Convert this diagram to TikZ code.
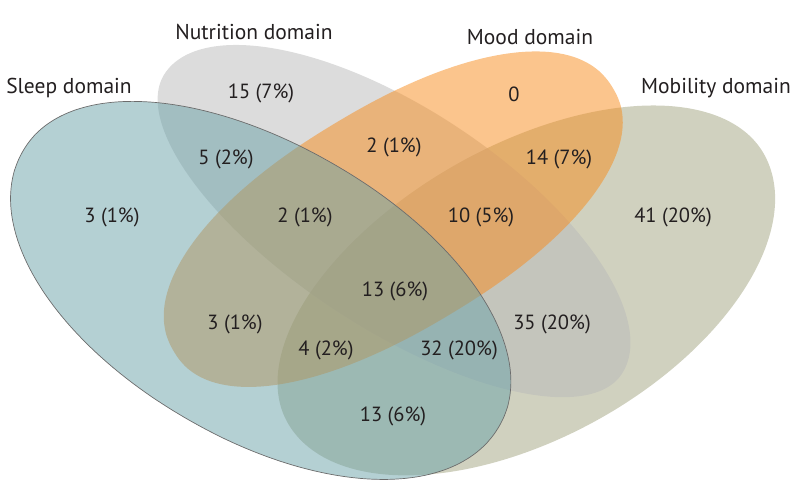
\documentclass[tikz,border=0pt]{standalone}
\usepackage{fontspec}
\setmainfont{PT Sans}
\definecolor{sleepc}{HTML}{6AA1A8}
\definecolor{nutric}{HTML}{B9B9B9}
\definecolor{moodc}{HTML}{F78B1B}
\definecolor{mobc}{HTML}{A2A480}
\definecolor{txt}{HTML}{231F20}
% #1 cx, #2 cy, #3 rotation, #4 a (+u end), #5 a (-u end), #6 b (+v side), #7 b (-v side), #8 exponent, #9 style
\newcommand{\vennshape}[9]{%
  \path[#9, shift={(#1,#2)}, rotate=#3]
    plot[domain=0.5:360.5, samples=361, variable=\t]
    ({((cos(\t)>0) ? #4 : #5)*cos(\t)/abs(cos(\t))*pow(abs(cos(\t)),2/#8)},
     {((sin(\t)>0) ? #6 : #7)*sin(\t)/abs(sin(\t))*pow(abs(sin(\t)),2/#8)}) -- cycle;}
\begin{document}
\begin{tikzpicture}[x=1pt,y=-1pt,
  setfill/.style={fill=#1, fill opacity=0.5},
  lab/.style={text=txt, font=\fontsize{20.5}{22}\selectfont, inner sep=0pt},
  title/.style={text=txt, font=\fontsize{21.5}{23}\selectfont, inner sep=0pt}]
\useasboundingbox (0,0) rectangle (794,500);
% Mobility
\vennshape{527}{287.5}{29.4}{272}{275}{150}{142}{2}{setfill=mobc}
% Nutrition
\vennshape{392}{223}{-33.3}{275}{272}{104}{116}{2}{setfill=nutric}
% Mood
\vennshape{393.5}{220}{31}{256}{256}{110}{113}{2.2}{setfill=moodc}
% Sleep
\vennshape{262}{289}{-30}{274}{276}{150}{144}{2.05}{setfill=sleepc, draw=gray!85!black, line width=0.7pt}

\node[title] (tsleep) at (69,88) {Sleep domain};
\node[title] (tnutri) at (254,32) {Nutrition domain};
\node[title] (tmood) at (530,37) {Mood domain};
\node[title] (tmob) at (716,88) {Mobility domain};

\node[lab] (n1) at (261,93) {15 (7\%)};
\node[lab] (m1) at (514,94) {0};
\node[lab] (sn) at (226,159) {5 (2\%)};
\node[lab] (nm) at (394,147) {2 (1\%)};
\node[lab] (mm) at (559,159) {14 (7\%)};
\node[lab] (s1) at (112,217) {3 (1\%)};
\node[lab] (snm) at (305,217) {2 (1\%)};
\node[lab] (nmb) at (481,217) {10 (5\%)};
\node[lab] (b1) at (673,217) {41 (20\%)};
\node[lab] (all) at (395,291) {13 (6\%)};
\node[lab] (sm) at (235,324) {3 (1\%)};
\node[lab] (smb) at (326,350) {4 (2\%)};
\node[lab] (snb) at (459,350) {32 (20\%)};
\node[lab] (nb) at (552,324) {35 (20\%)};
\node[lab] (sb) at (393,416) {13 (6\%)};
\end{tikzpicture}
\end{document}
